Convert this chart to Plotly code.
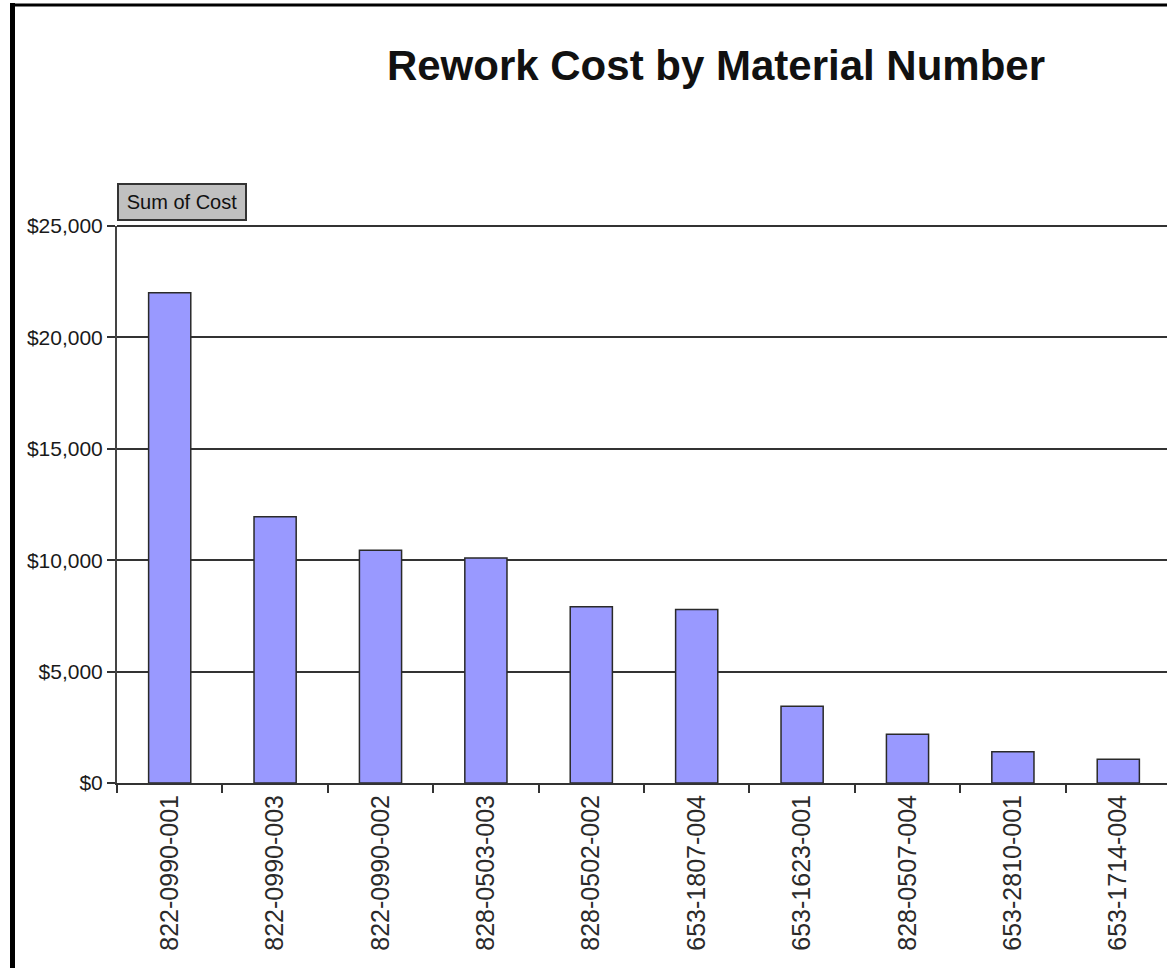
import plotly.graph_objects as go

materials = ["822-0990-001", "822-0990-003", "822-0990-002", "828-0503-003", "828-0502-002",
             "653-1807-004", "653-1623-001", "828-0507-004", "653-2810-001", "653-1714-004"]
costs = [22000, 11950, 10450, 10100, 7910, 7790, 3450, 2190, 1400, 1070]
y_ticks = [0, 5000, 10000, 15000, 20000, 25000]
y_tick_labels = ["$0", "$5,000", "$10,000", "$15,000", "$20,000", "$25,000"]

W, H = 1167, 968
L, T, R, B = 117, 226, 0, 185
PW, PH = W - L - R, H - T - B

FONT = "Liberation Sans, Arial, sans-serif"

fig = go.Figure(go.Bar(
    x=materials, y=costs,
    marker=dict(color="#9999ff", line=dict(color="#2a2a2a", width=1.5)),
    hoverinfo="x+y",
))

def px_x(p):
    return (p - L) / PW

def px_y(p):
    return (H - B - p) / PH

fig.update_layout(
    width=W, height=H,
    margin=dict(l=L, r=R, t=T, b=B, pad=0),
    paper_bgcolor="white", plot_bgcolor="white",
    bargap=0.6,
    showlegend=False,
    font=dict(family=FONT, color="#222222"),
    title=dict(text="<b>Rework Cost by Material Number</b>",
               font=dict(family=FONT, size=42, color="#111111"),
               x=716 / W, xanchor="center", xref="container",
               y=1 - 65 / H, yanchor="middle", yref="container"),
    xaxis=dict(
        type="category", range=[-0.5, -0.5 + PW / 105.4],
        tickson="boundaries", ticks="outside", ticklen=8, tickwidth=2, tickcolor="#333333",
        tickangle=-90, tickfont=dict(size=25, color="#2a2a2a"),
        showgrid=False, showline=True, linecolor="#333333", linewidth=2,
        zeroline=False,
    ),
    yaxis=dict(
        range=[0, 25000], tickvals=y_ticks, ticktext=y_tick_labels,
        ticks="outside", ticklen=8, tickwidth=2, tickcolor="#333333",
        tickfont=dict(size=21, color="#1a1a1a"),
        showgrid=True, gridcolor="#333333", gridwidth=2,
        showline=True, linecolor="#444444", linewidth=2, zeroline=False,
    ),
    annotations=[dict(
        text="Sum of Cost", xref="paper", yref="paper",
        x=px_x(117), y=px_y(221), xanchor="left", yanchor="bottom",
        showarrow=False, font=dict(family=FONT, size=20, color="#111111"),
        bgcolor="#c0c0c0", bordercolor="#333333", borderwidth=2, borderpad=2,
        width=122, height=30,
    )],
    shapes=[
        dict(type="line", xref="paper", yref="paper",
             x0=0, x1=1, y0=1, y1=1,
             line=dict(color="#333333", width=2)),
        dict(type="line", xref="paper", yref="paper",
             x0=px_x(12.5), x1=px_x(12.5), y0=px_y(3), y1=px_y(H + 5),
             line=dict(color="black", width=5)),
        dict(type="line", xref="paper", yref="paper",
             x0=px_x(10), x1=px_x(W + 5), y0=px_y(5), y1=px_y(5),
             line=dict(color="black", width=3)),
    ],
)

fig.write_html("out.html")
